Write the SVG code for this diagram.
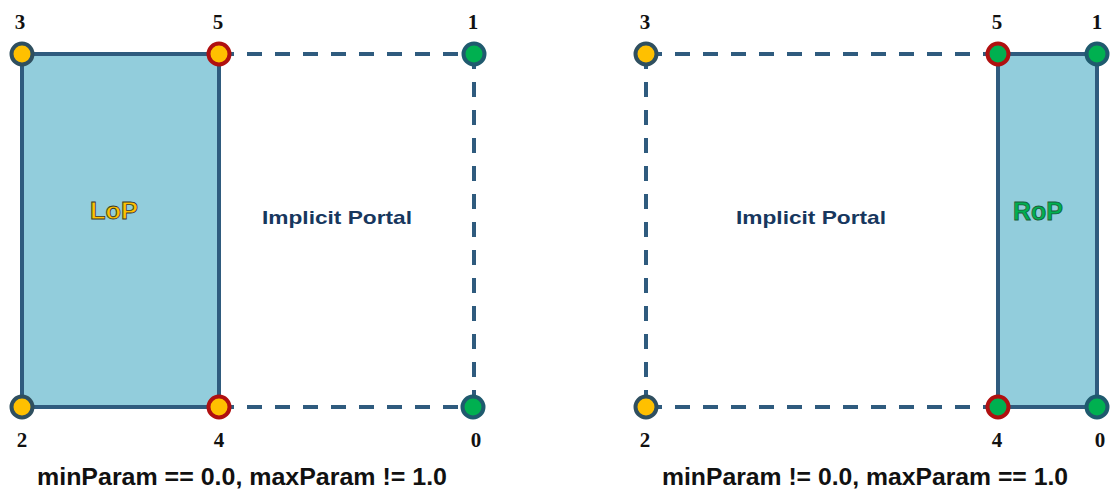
<svg xmlns="http://www.w3.org/2000/svg" width="1119" height="491" viewBox="0 0 1119 491">
<style>
.bg{fill:#ffffff}
.panel{fill:#92CDDC;stroke:#2F5B7E;stroke-width:4}
.dash{stroke:#2F5B7E;stroke-width:4;fill:none;stroke-dasharray:15 13}
.vy{fill:#FFC000;stroke:#2F4F5F;stroke-width:4}
.vyr{fill:#FFC000;stroke:#B01010;stroke-width:4}
.vg{fill:#00B050;stroke:#1F5A6E;stroke-width:4}
.vgr{fill:#00B050;stroke:#B01010;stroke-width:4}
.num{font-family:"Liberation Serif",serif;font-weight:bold;font-size:21px;fill:#111;text-anchor:middle}
.portal{font-family:"Liberation Sans",Arial,sans-serif;font-weight:bold;font-size:19px;fill:#17375E;text-anchor:middle}
.cap{font-family:"Liberation Sans",Arial,sans-serif;font-weight:bold;font-size:24px;fill:#111;text-anchor:middle}
.lop{font-family:"Liberation Sans",Arial,sans-serif;font-weight:bold;font-size:24px;fill:#FFC000;stroke:#3A3A2A;stroke-width:0.8;text-anchor:middle}
.rop{font-family:"Liberation Sans",Arial,sans-serif;font-weight:bold;font-size:25px;fill:#00B050;stroke:#1B5E3B;stroke-width:0.8;text-anchor:middle}
</style>
<rect class="bg" x="0" y="0" width="1119" height="491"/>

<g id="panels">
  <rect id="lop-panel" class="panel" x="22" y="54" width="197" height="353"/>
  <rect id="rop-panel" class="panel" x="998" y="54" width="99" height="353"/>
</g>

<g id="connectors">
  <line class="dash" x1="219" y1="54" x2="474" y2="54"/>
  <line class="dash" x1="219" y1="407" x2="474" y2="407"/>
  <line class="dash" x1="474" y1="54" x2="474" y2="407"/>
  <line class="dash" x1="998" y1="54" x2="646" y2="54"/>
  <line class="dash" x1="998" y1="407" x2="646" y2="407"/>
  <line class="dash" x1="646" y1="54" x2="646" y2="407"/>
</g>

<g id="labels">
  <text class="lop" x="114" y="219" textLength="48" lengthAdjust="spacingAndGlyphs">LoP</text>
  <text class="portal" x="337" y="224" textLength="150" lengthAdjust="spacingAndGlyphs">Implicit Portal</text>
  <text class="portal" x="811" y="224" textLength="150" lengthAdjust="spacingAndGlyphs">Implicit Portal</text>
  <text class="rop" x="1038" y="220" textLength="50" lengthAdjust="spacingAndGlyphs">RoP</text>
  <text class="cap" x="242" y="485" textLength="410" lengthAdjust="spacingAndGlyphs">minParam == 0.0, maxParam != 1.0</text>
  <text class="cap" x="865" y="485" textLength="406" lengthAdjust="spacingAndGlyphs">minParam != 0.0, maxParam == 1.0</text>
</g>

<g id="left-v3"><circle class="vy" cx="22" cy="54" r="10.5"/><text class="num" x="20" y="29">3</text></g>
<g id="left-v5"><circle class="vyr" cx="219" cy="54" r="10.5"/><text class="num" x="218" y="29">5</text></g>
<g id="left-v1"><circle class="vg" cx="474" cy="54" r="10.5"/><text class="num" x="473" y="29">1</text></g>
<g id="left-v2"><circle class="vy" cx="22" cy="407" r="10.5"/><text class="num" x="22" y="447">2</text></g>
<g id="left-v4"><circle class="vyr" cx="219" cy="407" r="10.5"/><text class="num" x="219" y="447">4</text></g>
<g id="left-v0"><circle class="vg" cx="473" cy="407" r="10.5"/><text class="num" x="476" y="447">0</text></g>

<g id="right-v3"><circle class="vy" cx="646" cy="54" r="10.5"/><text class="num" x="645" y="29">3</text></g>
<g id="right-v5"><circle class="vgr" cx="998" cy="54" r="10.5"/><text class="num" x="997" y="29">5</text></g>
<g id="right-v1"><circle class="vg" cx="1097" cy="54" r="10.5"/><text class="num" x="1097" y="29">1</text></g>
<g id="right-v2"><circle class="vy" cx="646" cy="407" r="10.5"/><text class="num" x="645" y="447">2</text></g>
<g id="right-v4"><circle class="vgr" cx="998" cy="407" r="10.5"/><text class="num" x="997" y="447">4</text></g>
<g id="right-v0"><circle class="vg" cx="1097" cy="407" r="10.5"/><text class="num" x="1100" y="447">0</text></g>
</svg>
